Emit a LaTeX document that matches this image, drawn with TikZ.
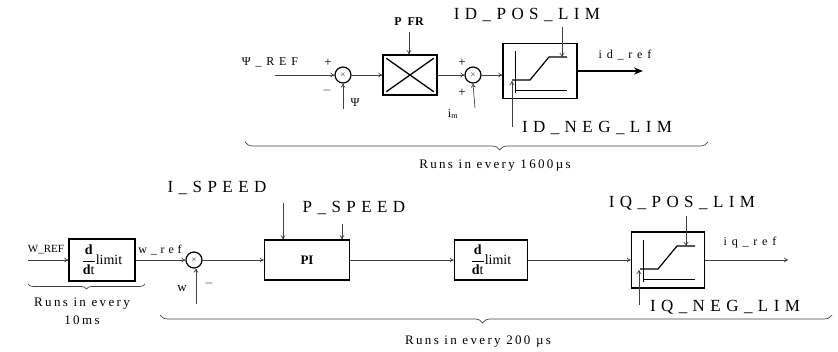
\documentclass[tikz,border=0pt]{standalone}
\usepackage{fontspec}
\usepackage{amsmath}
\setmainfont{Liberation Serif}
\newfontfamily\widefont[LetterSpace=32]{Liberation Serif}
\newfontfamily\widerfont[LetterSpace=40]{Liberation Serif}
\newfontfamily\runfont[LetterSpace=18]{Liberation Serif}
\usetikzlibrary{positioning, calc, arrows.meta, decorations.pathreplacing}

\begin{document}
\begin{tikzpicture}[x=1pt, y=-1pt,
    blk/.style={draw, line width=1.5pt, inner sep=0pt},
    sumc/.style={draw, circle, line width=1.2pt, minimum size=16pt, inner sep=0pt, font=\scriptsize},
    sig/.style={draw=black!75, line width=0.7pt, -{To[length=4pt,width=5pt]}},
    parlbl/.style={font=\widefont\fontsize{17}{19}\selectfont, inner sep=0pt},
    siglbl/.style={font=\widerfont\fontsize{12}{14}\selectfont, inner sep=0pt},
    sgn/.style={font=\fontsize{13}{13}\selectfont, inner sep=0pt},
    runlbl/.style={font=\runfont\fontsize{13}{18}\selectfont, inner sep=0pt, align=center},
    ddt/.style={blk, font=\fontsize{14}{16}\selectfont},
    tbrace/.style={decorate, draw=black!75, line width=0.7pt, decoration={brace, mirror, amplitude=#1}}]

    \useasboundingbox (0,0) rectangle (838,352);

    % --- Flux loop (top) ---
    \node[siglbl] (psiref) at (270,62) {Ψ\_REF};
    \coordinate (psiin) at (275,75);
    \node[sumc] (s1) at (343,75) {$\times$};
    \node[sgn] (s1p) at (328,63) {+};
    \node[sgn] (s1m) at (327,91) {$-$};
    \coordinate (psifb) at (343,109);
    \node[siglbl] (psi) at (355,103) {Ψ};

    % Multiplier with P FR
    \node[blk, minimum width=54pt, minimum height=40pt] (mul) at (410,75) {};
    \draw[line width=1.3pt] ($(mul.north west)+(4,4)$) -- ($(mul.south east)+(-4,-4)$);
    \draw[line width=1.3pt] ($(mul.north east)+(-4,4)$) -- ($(mul.south west)+(4,-4)$);
    \node[font=\bfseries\fontsize{12}{14}\selectfont, inner sep=0pt] (pfr) at (409,22) {P\hspace{6pt}FR};
    \coordinate (pfrin) at (409,32);

    % Second sum with i_m
    \node[sumc] (s2) at (473,75) {$\times$};
    \node[sgn] (s2pa) at (462,63) {+};
    \node[sgn] (s2pb) at (462,93) {+};
    \node[inner sep=0pt, font=\fontsize{12}{14}\selectfont] (im) at (453,114) {i\textsubscript{m}};
    \coordinate (imin) at (475,108);

    % Limiter for id
    \node[blk, minimum width=74pt, minimum height=55pt] (lim1) at (540,71) {};
    \node[parlbl] (idpos) at (527,15) {ID\_POS\_LIM};
    \node[parlbl] (idneg) at (597,128) {ID\_NEG\_LIM};
    \node[siglbl] (idref) at (625,55) {id\_ref};
    \coordinate (idposin) at (562,27);
    \coordinate (idnegin) at (512,127);
    \coordinate (idout) at (643,71);

    % --- Speed loop (bottom) ---
    \node[inner sep=0pt, font=\fontsize{11}{12}\selectfont] (wref) at (46,250) {W\_REF};
    \coordinate (win) at (28,260);
    \node[ddt, minimum width=66pt, minimum height=42pt] (dd1) at (102,260)
        {$\dfrac{\textbf{d}}{\textbf{d}\text{t}}$limit};
    \node[font=\widefont\fontsize{12}{13}\selectfont, inner sep=0pt] (wrefs) at (160,250) {w\_ref};
    \node[sumc] (s3) at (194,260) {$\times$};
    \node[inner sep=0pt, font=\fontsize{13}{14}\selectfont] (w) at (182,289) {w};
    \node[sgn] (s3m) at (209,284) {$-$};
    \coordinate (wfb) at (196,304);

    % PI block with gains
    \node[blk, minimum width=85pt, minimum height=40pt, font=\bfseries\fontsize{13}{14}\selectfont] (pi) at (307,260) {PI};
    \node[parlbl] (ispeed) at (217,188) {I\_SPEED};
    \node[parlbl] (pspeed) at (354,208) {P\_SPEED};
    \coordinate (ispin) at (283,203);
    \coordinate (pspin) at (342,224);

    % Rate limiter and iq limiter
    \node[ddt, minimum width=73pt, minimum height=40pt] (dd2) at (491,260)
        {$\dfrac{\textbf{d}}{\textbf{d}\text{t}}$limit};
    \node[blk, minimum width=73pt, minimum height=56pt] (lim2) at (668,260) {};
    \node[parlbl] (iqpos) at (682,203) {IQ\_POS\_LIM};
    \node[parlbl] (iqneg) at (725,307) {IQ\_NEG\_LIM};
    \node[siglbl] (iqref) at (750,243) {iq\_ref};
    \coordinate (iqposin) at (686,216);
    \coordinate (iqnegin) at (639,305);
    \coordinate (iqout) at (788,260);

    % --- Limiter curves ---
    \foreach \lm in {lim1,lim2} {
        \begin{scope}[shift={(\lm.center)}]
            \draw[line width=1.2pt] (-28,9) -- (-10,9) -- (9,-14) -- (27,-14);
            \draw[line width=0.8pt] (-25,-20) -- (-25,22);
            \draw[line width=1pt] (-24,20) -- (27,20);
            \coordinate (\lm-top) at (20,-14);
            \coordinate (\lm-low) at (-29,10);
        \end{scope}
    }

    % --- Connectors ---
    \draw[sig] (psiin) -- (s1.west);
    \draw[sig] (psifb) -- (s1.south);
    \draw[sig] (s1) -- (mul);
    \draw[sig] (pfrin) -- (pfrin |- mul.north);
    \draw[sig] (mul) -- (s2);
    \draw[sig] (imin) -- (s2.south);
    \draw[sig] (s2) -- (s2 -| lim1.west);
    \draw[sig] (idposin) -- (idposin |- lim1-top);
    \draw[sig] (idnegin) -- (idnegin |- lim1-low);
    \draw[line width=1.6pt, -{Stealth[length=9pt,width=7pt]}] (lim1.east |- idout) -- (idout);

    \draw[sig] (win) -- (win -| dd1.west);
    \draw[sig] (dd1) -- (s3);
    \draw[sig] (wfb) -- (wfb |- s3.south);
    \draw[sig] (s3) -- (pi);
    \draw[sig] (ispin) -- (ispin |- pi.north);
    \draw[sig] (pspin) -- (pspin |- pi.north);
    \draw[sig] (pi) -- (dd2);
    \draw[sig] (dd2) -- (lim2);
    \draw[sig] (iqposin) -- (iqposin |- lim2-top);
    \draw[sig] (iqnegin) -- (iqnegin |- lim2-low);
    \draw[sig] (lim2) -- (iqout);

    % --- Sample time braces ---
    \draw[tbrace=8pt, decoration={aspect=0.55}] (245,142) -- (708,142);
    \node[runlbl] (run1) at (495,166) {Runs in every 1600µs};
    \draw[tbrace=5pt] (28,284) -- (145,284);
    \node[runlbl] (run2) at (82,311) {Runs in every\\10ms};
    \draw[tbrace=8pt, decoration={aspect=0.48}] (160,315) -- (832,315);
    \node[runlbl] (run3) at (478,342) {Runs in every 200 µs};

\end{tikzpicture}
\end{document}
